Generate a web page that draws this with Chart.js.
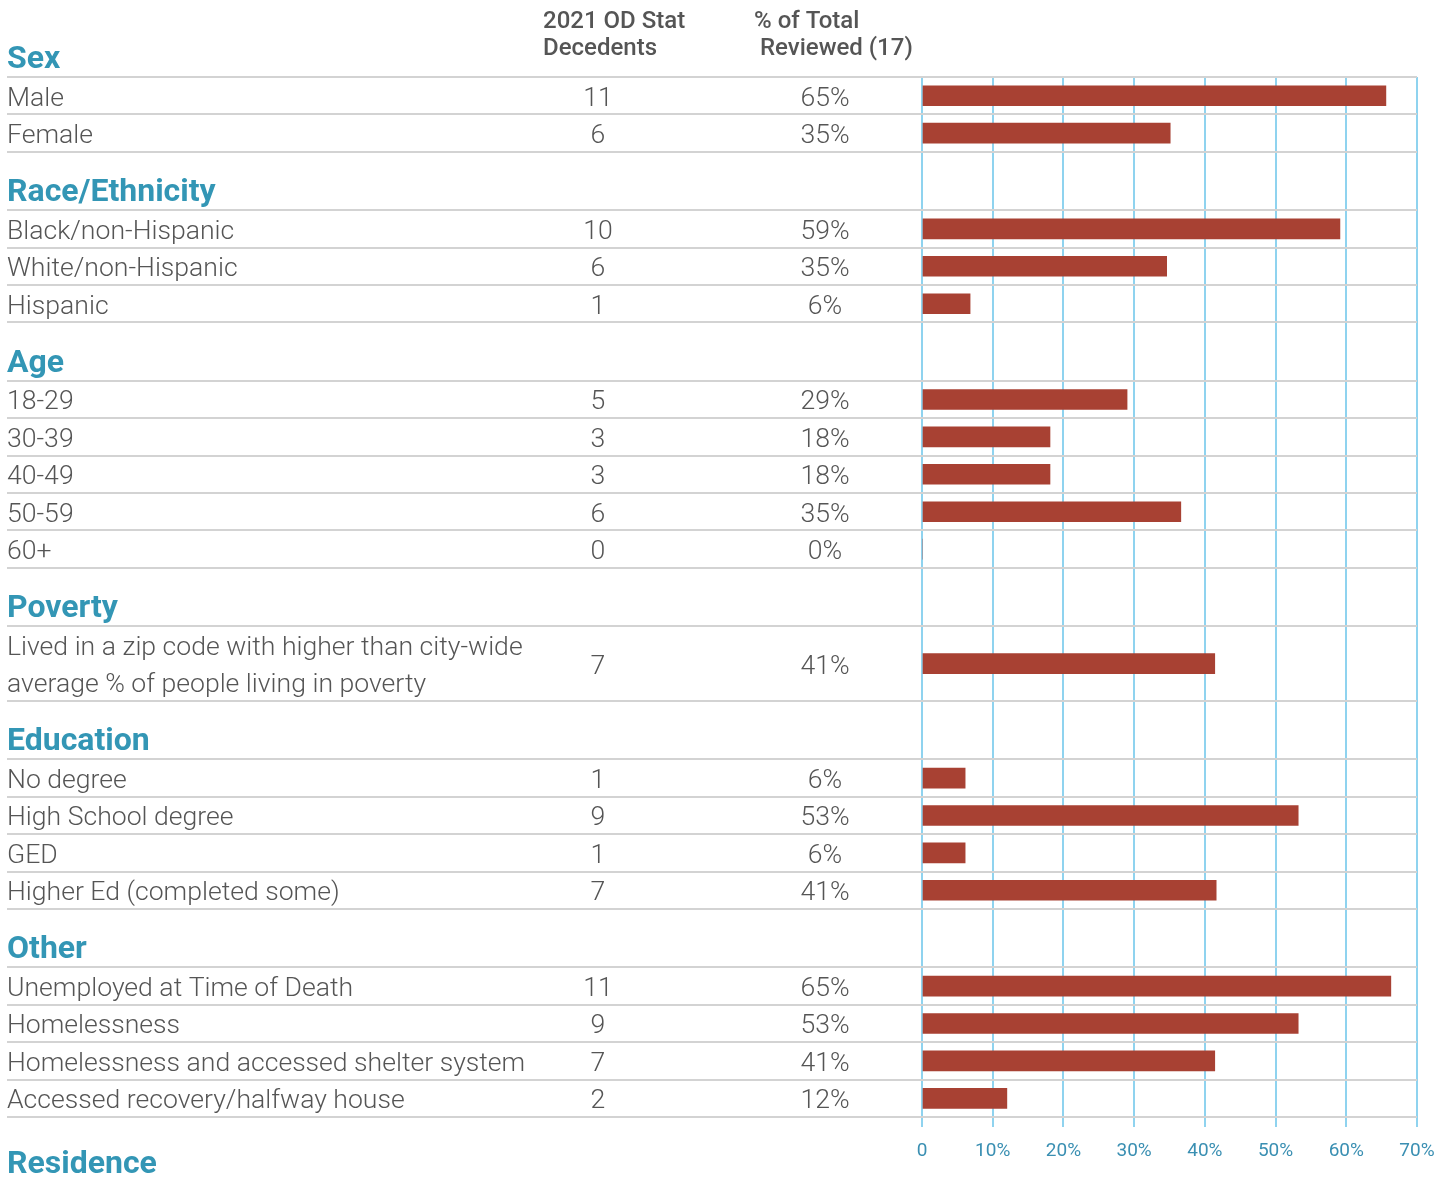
<!DOCTYPE html>
<html>
<head>
<meta charset="utf-8">
<script src="https://cdn.jsdelivr.net/npm/chart.js@4.4.1/dist/chart.umd.min.js"></script>
<style>
  body { margin: 0; background: #fff; }
  #wrap { width: 1450px; height: 1177px; position: relative; }
</style>
</head>
<body>
<div id="wrap"><canvas id="odChart"></canvas></div>
<script>
// group headings, in order; the last one has no rows shown
const groups = ['Sex', 'Race/Ethnicity', 'Age', 'Poverty', 'Education', 'Other', 'Residence']

const categories = [
    'Male', 'Female',
    'Black/non-Hispanic', 'White/non-Hispanic', 'Hispanic',
    '18-29', '30-39', '40-49', '50-59', '60+',
    'Lived in a zip code with higher than city-wide\naverage % of people living in poverty',
    'No degree', 'High School degree', 'GED', 'Higher Ed (completed some)',
    'Unemployed at Time of Death', 'Homelessness', 'Homelessness and accessed shelter system', 'Accessed recovery/halfway house'
]
const categoryGroup = [0, 0, 1, 1, 1, 2, 2, 2, 2, 2, 3, 4, 4, 4, 4, 5, 5, 5, 5]

const decedents = [11, 6, 10, 6, 1, 5, 3, 3, 6, 0, 7, 1, 9, 1, 7, 11, 9, 7, 2]
const percentLabels = ['65%', '35%', '59%', '35%', '6%', '29%', '18%', '18%', '35%', '0%', '41%', '6%', '53%', '6%', '41%', '65%', '53%', '41%', '12%']
// bar lengths as drawn in the picture (% of total reviewed)
const barValues = [65.6, 35.1, 59.1, 34.6, 6.8, 29.0, 18.1, 18.1, 36.6, 0, 41.4, 6.1, 53.2, 6.1, 41.6, 66.3, 53.2, 41.4, 12.0]

const xTicks = [0, 10, 20, 30, 40, 50, 60, 70]
const columnHeads = [['2021 OD Stat', 'Decedents'], ['% of Total', ' Reviewed (17)']]

// row layout in "row units": a heading row is a bit taller than a data row
const HEADER_UNITS = 1.56
var rowTop = []
var rowUnits = []
var headingTop = []
var pos = 0
var lastGroup = -1
categories.forEach((c, i) => {
    if (categoryGroup[i] !== lastGroup) {
        lastGroup = categoryGroup[i]
        if (i > 0) pos += HEADER_UNITS
        headingTop.push(pos)
    }
    rowTop.push(pos)
    rowUnits.push(c.split('\n').length)
    pos += rowUnits[i]
})
const totalUnits = pos
const rowCenter = rowTop.map((t, i) => t + rowUnits[i] / 2)

const BAR_COLOR = '#a84133'
const HEAD_COLOR = '#3396b5'
const TEXT_COLOR = '#555555'
const LINE_COLOR = '#d3d3d3'

const tablePlugin = {
    id: 'tableText',
    beforeDatasetsDraw(chart) {
        const ctx = chart.ctx
        const y = chart.scales.y
        const area = chart.chartArea
        const unitPx = Math.abs(y.getPixelForValue(1) - y.getPixelForValue(0))
        ctx.save()

        // row separator lines
        ctx.strokeStyle = LINE_COLOR
        ctx.lineWidth = 2
        var lines = []
        rowTop.forEach((t, i) => {
            lines.push(t)
            lines.push(t + rowUnits[i])
        })
        lines.forEach((v) => {
            const py = Math.round(y.getPixelForValue(v))
            ctx.beginPath()
            ctx.moveTo(7, py)
            ctx.lineTo(area.right, py)
            ctx.stroke()
        })

        // group headings
        ctx.fillStyle = HEAD_COLOR
        ctx.font = 'bold 32px Roboto'
        ctx.textAlign = 'left'
        ctx.textBaseline = 'alphabetic'
        headingTop.forEach((t, g) => {
            ctx.fillText(groups[g], 7, y.getPixelForValue(t) - 9)
        })
        // last heading sits under the table
        ctx.fillText(groups[groups.length - 1], 7, y.getPixelForValue(totalUnits) + 56)

        // column headings
        ctx.fillStyle = TEXT_COLOR
        ctx.font = '500 24px Roboto'
        columnHeads[0].forEach((s, k) => ctx.fillText(s, 543, 28 + k * 27))
        columnHeads[1].forEach((s, k) => ctx.fillText(s, 754, 28 + k * 27))

        // rows
        ctx.font = '300 26.6px Roboto'
        categories.forEach((c, i) => {
            const cy = y.getPixelForValue(rowCenter[i])
            const parts = c.split('\n')
            ctx.textAlign = 'left'
            parts.forEach((p, k) => {
                const ly = cy + (k - (parts.length - 1) / 2) * unitPx + 10
                ctx.fillText(p, 7, ly)
            })
            ctx.textAlign = 'center'
            ctx.fillText(String(decedents[i]), 598, cy + 10)
            ctx.fillText(percentLabels[i], 825, cy + 10)
        })
        ctx.restore()
    }
}

const ctx0 = document.getElementById('odChart')

var od_chart = new Chart(ctx0, {
    type: 'bar',
    data: {
        datasets: [
            {
                label: '% of Total Reviewed',
                data: barValues.map((v, i) => ({ x: v, y: rowCenter[i] })),
                backgroundColor: BAR_COLOR,
                borderWidth: 0,
                barThickness: 20
            }
        ]
    },
    options: {
        indexAxis: 'y',
        responsive: true,
        maintainAspectRatio: false,
        animation: false,
        layout: {
            padding: { left: 922, right: 33, top: 77, bottom: 0 }
        },
        plugins: {
            legend: { display: false },
            tooltip: { enabled: false }
        },
        scales: {
            x: {
                type: 'linear',
                min: 0,
                max: 70,
                afterBuildTicks: (s) => { s.ticks = xTicks.map((v) => ({ value: v })) },
                afterFit: (s) => { s.height = 60 },
                ticks: {
                    color: '#3a8fb2',
                    font: { family: 'Roboto', size: 19 },
                    padding: 13,
                    callback: (v) => v === 0 ? '0' : v + '%'
                },
                grid: {
                    color: '#8fd3ef',
                    lineWidth: 2,
                    tickLength: 10
                },
                border: { display: false }
            },
            y: {
                type: 'linear',
                min: 0,
                max: totalUnits,
                reverse: true,
                offset: false,
                grid: { offset: false },
                display: false
            }
        }
    },
    plugins: [tablePlugin]
})
</script>
</body>
</html>
